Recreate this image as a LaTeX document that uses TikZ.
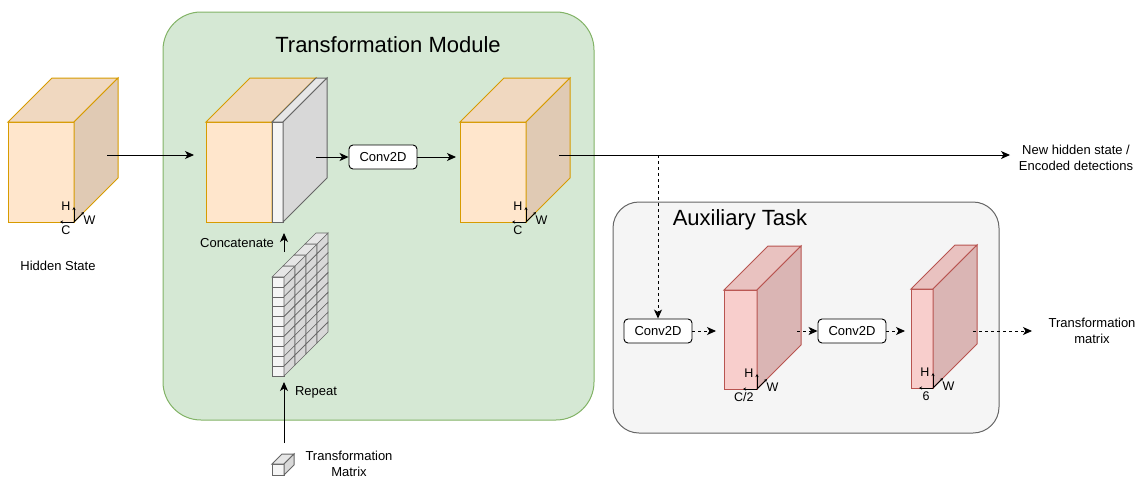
\documentclass[tikz,border=0pt]{standalone}
\usepackage{fontspec}
\setmainfont{Liberation Sans}
\usetikzlibrary{arrows.meta}

\definecolor{cubeorange}{HTML}{FFE6CC}
\definecolor{edgeorange}{HTML}{D79B00}
\definecolor{cubered}{HTML}{F8CECC}
\definecolor{edgered}{HTML}{B85450}
\definecolor{modgreen}{HTML}{D5E8D4}
\definecolor{edgegreen}{HTML}{82B366}
\definecolor{auxgray}{HTML}{F5F5F5}
\definecolor{edgegray}{HTML}{666666}

% front face at (#1,#2), width #3, height #4, depth #5, fill #6, stroke #7
\newcommand{\featcube}[7]{%
  \draw[draw=#7,fill=#6] (#1,#2) rectangle ({#1+#3},{#2+#4});
  \draw[draw=#7,fill=#6!94!black] (#1,#2) -- ({#1+#5},{#2-#5}) -- ({#1+#3+#5},{#2-#5}) -- ({#1+#3},#2) -- cycle;
  \draw[draw=#7,fill=#6!88!black] ({#1+#3},#2) -- ({#1+#3+#5},{#2-#5}) -- ({#1+#3+#5},{#2+#4-#5}) -- ({#1+#3},{#2+#4}) -- cycle;
}
% H/W/C axes at the lower front corner (#1,#2), channel label #3
\newcommand{\hwcaxes}[3]{%
  \draw[axis] (#1,#2) -- ++(0,-15);
  \draw[axis] (#1,#2) -- ++(-14,0);
  \draw[axis] (#1,#2) -- ++(10,-10);
  \node[small,anchor=east] at ({#1-3},{#2-16}) {H};
  \node[small,anchor=west] at ({#1+9},{#2-2}) {W};
  \node[small,anchor=north east] at ({#1-3},{#2+3}) {#3};
}

\tikzset{
  txt/.style={font=\fontsize{13}{16}\selectfont,align=center,inner sep=0pt},
  small/.style={font=\fontsize{12.5}{13}\selectfont,inner sep=0pt},
  title/.style={font=\fontsize{22}{24}\selectfont,inner sep=0pt},
  axis/.style={line width=0.8pt,-{Stealth[length=3pt,width=3pt]}},
  conv/.style={draw,fill=white,rounded corners=4pt,line width=0.9pt,minimum width=68pt,
    minimum height=24pt,inner sep=0pt,font=\fontsize{13}{14}\selectfont},
  flow/.style={line width=0.9pt,->},
  auxflow/.style={line width=0.9pt,->,dash pattern=on 3pt off 3pt},
  gridcell/.style={draw=edgegray,line width=0.6pt},
}

\begin{document}
\begin{tikzpicture}[x=1pt,y=-1pt,>={Stealth[length=9pt,width=8pt,inset=2.5pt]},line width=1pt]
\useasboundingbox (0,0) rectangle (1138,482);

% module backgrounds
\draw[rounded corners=38pt,fill=modgreen,draw=edgegreen] (163,12) rectangle (594,420);
\node[title] (tmtitle) at (388,45) {Transformation Module};
\draw[rounded corners=26pt,fill=auxgray,draw=edgegray] (613,202) rectangle (999,433);
\node[title] (auxtitle) at (740,220) {Auxiliary Task};

% hidden state
\featcube{8}{122}{66}{100}{44}{cubeorange}{edgeorange}
\hwcaxes{74}{222}{C}
\node[txt] (hslabel) at (58,266) {Hidden State};

% concatenated state
\featcube{206}{122}{66}{100}{44}{cubeorange}{edgeorange}
\featcube{272}{122}{11}{100}{44}{auxgray}{edgegray}
\node[txt] (concat) at (237,243) {Concatenate};

% repeated transformation matrix
\foreach \i in {0,...,9} {
  \draw[gridcell,fill=auxgray] (272,{277+9.9*\i}) rectangle +(12,9.9);
  \foreach \k in {0,...,3}
    \draw[gridcell,fill=auxgray!88!black] ({284+11*\k},{277+9.9*\i-11*\k}) -- ++(11,-11) -- ++(0,9.9) -- ++(-11,11) -- cycle;
}
\foreach \k in {0,...,3}
  \draw[gridcell,fill=auxgray!94!black] ({272+11*\k},{277-11*\k}) -- ++(11,-11) -- ++(12,0) -- ++(-11,11) -- cycle;
\node[txt] (repeat) at (316,392) {Repeat};

% single transformation matrix
\featcube{272}{464}{12}{11}{10}{auxgray}{edgegray}
\node[txt] (tmlabel) at (349,464) {Transformation\\Matrix};

\node[conv] (conv) at (383,157) {Conv2D};

% new hidden state
\featcube{460}{122}{66}{100}{44}{cubeorange}{edgeorange}
\hwcaxes{526}{222}{C}
\node[txt] (newstate) at (1076,158) {New hidden state /\\Encoded detections};

% auxiliary branch
\node[conv] (auxconva) at (658,331) {Conv2D};
\featcube{724}{290}{33}{99}{44}{cubered}{edgered}
\hwcaxes{757}{389}{C/2}
\node[conv] (auxconvb) at (852,331) {Conv2D};
\featcube{911}{289}{22}{99}{44}{cubered}{edgered}
\hwcaxes{933}{388}{6}
\node[txt] (tmout) at (1092,331) {Transformation\\matrix};

% connector end points
\coordinate (hsout) at (107,155);
\coordinate (catin) at (194,155);
\coordinate (catout) at (316,157);
\coordinate (newin) at (456,157);
\coordinate (newout) at (559,155);
\coordinate (newend) at (1010,155);
\coordinate (split) at (658,155);
\coordinate (redain) at (716,331);
\coordinate (redaout) at (797,331);
\coordinate (redbin) at (905,331);
\coordinate (redbout) at (973,331);
\coordinate (redbend) at (1032,331);
\coordinate (gridtop) at (284,252);
\coordinate (catbot) at (284,233);
\coordinate (singletop) at (284,443);
\coordinate (gridbot) at (284,382);

% connectors
\draw[flow] (hsout) -- (catin);
\draw[flow] (catout) -- (conv);
\draw[flow] (conv) -- (newin);
\draw[flow] (newout) -- (newend);
\draw[flow] (gridtop) -- (catbot);
\draw[flow] (singletop) -- (gridbot);
\draw[auxflow] (split) -- (auxconva);
\draw[auxflow] (auxconva) -- (redain);
\draw[auxflow] (redaout) -- (auxconvb);
\draw[auxflow] (auxconvb) -- (redbin);
\draw[auxflow] (redbout) -- (redbend);
\end{tikzpicture}
\end{document}
